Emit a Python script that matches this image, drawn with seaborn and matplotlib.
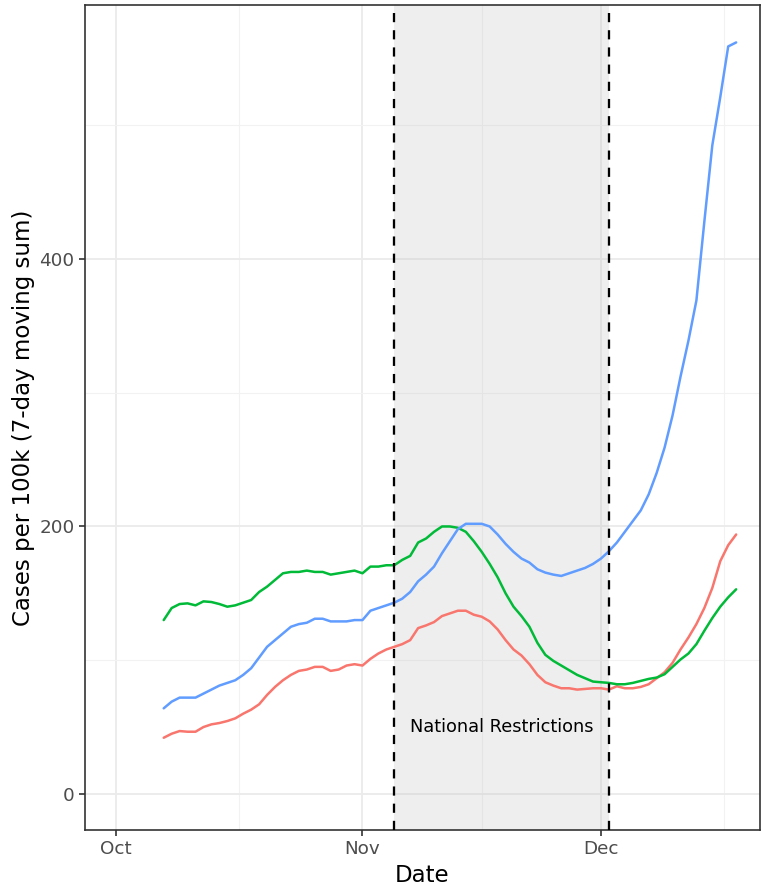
import numpy as np
import pandas as pd
import matplotlib
matplotlib.use("Agg")
import matplotlib.pyplot as plt
import matplotlib.dates as mdates
import matplotlib.ticker as mticker
import seaborn as sns

# daily values, 7 Oct - 18 Dec 2020
dates = pd.date_range("2020-10-07", "2020-12-18", freq="D")

red = [42, 45, 47, 46.5, 46.5, 50, 52, 53, 54.5, 56.5,
       60, 63, 67, 74, 80, 85, 89, 92, 93, 95,
       95, 92, 93, 96, 97, 96, 101, 105, 108, 110,
       112, 115, 124, 126, 128.5, 133, 135, 137, 137, 134,
       132.5, 129, 123, 115, 108, 103.5, 97, 89, 83.5, 81,
       79, 79, 78, 78.5, 79, 79, 78, 80.5, 79, 79,
       80, 82, 86.5, 91, 98, 108, 117, 127, 139, 154,
       174, 186, 194]

green = [130, 139, 142, 142.5, 141, 144, 143.5, 142, 140, 141,
         143, 145, 151, 155, 160, 165, 166, 166, 167, 166,
         166, 164, 165, 166, 167, 165, 170, 170, 171, 171,
         175, 178, 188, 191, 196, 200, 200, 199, 196, 189,
         181, 172, 162, 150, 140, 133, 125, 113, 104, 99.5,
         96, 92.5, 89, 86.5, 84, 83.5, 83, 82, 82, 83,
         84.5, 86, 87, 89.5, 95, 100.5, 105, 112, 122, 131.5,
         140, 147, 153]

blue = [64, 69, 72, 72, 72, 75, 78, 81, 83, 85,
        89, 94, 102, 110, 115, 120, 125, 127, 128, 131,
        131, 129, 129, 129, 130, 130, 137, 139, 141, 143,
        146, 151, 159, 164, 170, 180, 189, 198, 202, 202,
        202, 200, 194, 187, 181, 176, 173, 168, 165.5, 164,
        163, 165, 167, 169, 172, 176, 181.5, 188, 196, 204,
        212, 224, 240, 259, 283, 312, 339, 369, 428, 485,
        521, 559, 562]

groups = ["Group 1", "Group 2", "Group 3"]
palette = {"Group 1": "#F8766D", "Group 2": "#00BA38", "Group 3": "#619CFF"}

restr_start = pd.Timestamp("2020-11-05")
restr_end = pd.Timestamp("2020-12-02")
restr_label = "National Restrictions"

df = pd.DataFrame({
    "Date": np.tile(dates, 3),
    "cases": red + green + blue,
    "group": np.repeat(groups, len(dates)),
})

sns.set_theme(style="white")
plt.rcParams["font.family"] = ["DejaVu Sans"]

fig = plt.figure(figsize=(761 / 150, 886 / 150), dpi=150)
ax = fig.add_axes([85 / 761, 1 - 830 / 886, 675 / 761, 825 / 886])

# shaded restriction period + dashed boundaries
ax.axvspan(restr_start, restr_end, color="#BEBEBE", alpha=0.25, lw=0, zorder=1)
for d in [restr_start, restr_end]:
    ax.axvline(d, color="black", lw=1.1, linestyle=(0, (4, 3.5)), zorder=4)

sns.lineplot(data=df, x="Date", y="cases", hue="group", palette=palette,
             linewidth=1.2, legend=False, ax=ax, zorder=3)

ax.text(restr_start + (restr_end - restr_start) / 2, 50, restr_label,
        ha="center", va="center", fontsize=8.5, color="black", zorder=5)

ax.set_xlim(pd.Timestamp("2020-10-01") - pd.Timedelta(days=3.9),
            pd.Timestamp("2020-12-21"))
ax.set_ylim(-27, 590)

ax.xaxis.set_major_locator(mdates.MonthLocator())
ax.xaxis.set_major_formatter(mdates.DateFormatter("%b"))
ax.xaxis.set_minor_locator(mticker.FixedLocator(mdates.date2num([
    pd.Timestamp("2020-10-16 12:00"), pd.Timestamp("2020-11-16"),
    pd.Timestamp("2020-12-16 12:00")])))
ax.yaxis.set_major_locator(mticker.FixedLocator([0, 200, 400]))
ax.yaxis.set_minor_locator(mticker.FixedLocator([100, 300, 500]))

ax.grid(which="major", color="#EBEBEB", linewidth=0.9, zorder=0)
ax.grid(which="minor", color="#F2F2F2", linewidth=0.5, zorder=0)
ax.set_axisbelow(True)

ax.tick_params(which="major", direction="out", length=3, width=0.8,
               color="#333333", labelcolor="#4D4D4D", labelsize=8.8,
               bottom=True, left=True, pad=2)
ax.tick_params(which="minor", length=0)

for s in ax.spines.values():
    s.set_visible(True)
    s.set_color("#333333")
    s.set_linewidth(0.8)

ax.set_xlabel("Date", fontsize=11, color="black", labelpad=2.5)
ax.set_ylabel("Cases per 100k (7-day moving sum)", fontsize=11,
              color="black", labelpad=2)

fig.savefig("out.png", dpi=150, facecolor="white")
